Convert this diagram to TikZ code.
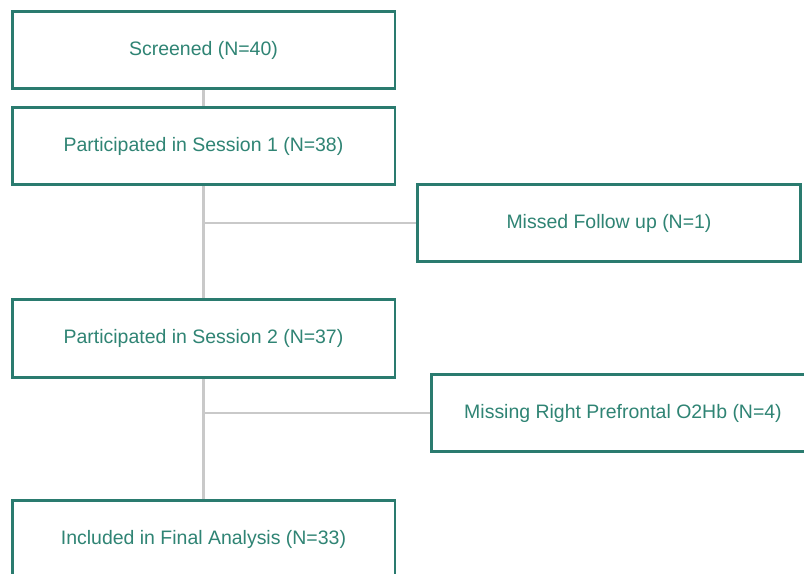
\documentclass[tikz,border=0pt]{standalone}
\usepackage{fontspec}
\setmainfont{Liberation Sans}
\usetikzlibrary{backgrounds}

\definecolor{boxteal}{HTML}{2A7B6F}
\definecolor{textteal}{HTML}{2F8474}
\definecolor{linegray}{HTML}{C9C9C9}

\tikzset{
  stagebox/.style={draw=boxteal,line width=2pt,fill=white,rectangle,
    minimum width=287pt,minimum height=58pt,text=textteal,
    font=\fontsize{14.6pt}{17pt}\selectfont},
  flowline/.style={draw=linegray,line width=1.6pt}
}

\begin{document}
\begin{tikzpicture}[x=0.75pt,y=-0.75pt]

    \useasboundingbox (0,0) rectangle (804,574);

    % main stages
    \node[stagebox] (screened) at (203.5,50) {Screened (N=40)};
    \node[stagebox] (session1) at (203.5,146) {Participated in Session 1 (N=38)};
    \node[stagebox] (session2) at (203.5,338.5) {Participated in Session 2 (N=37)};
    \node[stagebox] (final) at (203.5,539) {Included in Final Analysis (N=33)};

    % exclusions
    \node[stagebox] (missed) at (609,223) {Missed Follow up (N=1)};
    \node[stagebox] (missing) at (623,413) {Missing Right Prefrontal O2Hb (N=4)};

    % branch points
    \coordinate (b1) at (session1.south |- missed.west);
    \coordinate (b2) at (session2.south |- missing.west);

    % connectors
    \begin{scope}[on background layer]
    \draw[flowline] (screened.south) -- (session1.north);
    \draw[flowline] (session1.south) -- (session2.north);
    \draw[flowline] (session2.south) -- (final.north);
    \draw[flowline] (b1) -- (missed.west);
    \draw[flowline] (b2) -- (missing.west);
    \end{scope}

\end{tikzpicture}
\end{document}
